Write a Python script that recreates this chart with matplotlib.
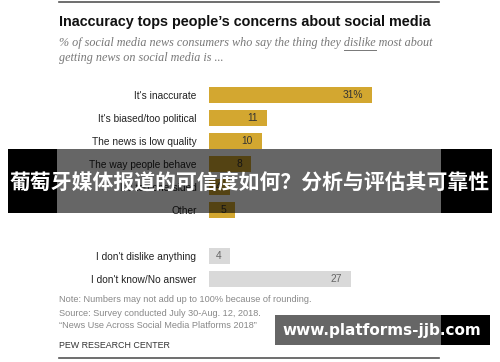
import matplotlib
matplotlib.use("Agg")
import matplotlib.pyplot as plt
from matplotlib.patches import Rectangle
from matplotlib.lines import Line2D

categories = ["It's inaccurate", "It's biased/too political", "The news is low quality",
              "The way people behave", "It's too one-sided", "Other",
              "I don't dislike anything", "I don't know/No answer"]
values = [31, 11, 10, 8, 4, 5, 4, 27]
value_labels = ["31%", "11", "10", "8", "4", "5", "4", "27"]
positions = [0, 1, 2, 3, 4, 5, 7, 8]
is_gray = [False] * 6 + [True, True]

GOLD = "#D3A730"
GRAY = "#D9D9D9"

W, H = 500, 362
fig = plt.figure(figsize=(W / 100, H / 100), dpi=100)
fig.patch.set_facecolor("white")

def fx(px):
    return px / W

def fy(py):
    return 1 - py / H

# bar axes: left at 209 px, 5.26 px per unit
xmax = 40
left_px = 209
ppu = 5.26
row_px = 23
top_row_px = 95
ax_top = top_row_px - row_px / 2
ax_bot = top_row_px + 8.5 * row_px
ax = fig.add_axes([fx(left_px), fy(ax_bot), (xmax * ppu) / W, (ax_bot - ax_top) / H])
ax.set_xlim(0, xmax)
ax.set_ylim(8.5, -0.5)
colors = [GRAY if g else GOLD for g in is_gray]
ax.barh(positions, values, height=0.70, color=colors, edgecolor="none")
for p, v, lab, g in zip(positions, values, value_labels, is_gray):
    ax.text(v - 9 / ppu, p, lab, ha="right", va="center", fontsize=7.4,
            family="Liberation Sans", color="#666" if g else "#333")
ax.set_yticks(positions)
ax.set_yticklabels(categories, fontsize=7.3, family="Liberation Sans", color="#222")
ax.tick_params(axis="y", length=0, pad=9)
ax.set_xticks([])
for s in ax.spines.values():
    s.set_visible(False)
ax.patch.set_alpha(0)

# rules
fig.add_artist(Line2D([fx(59), fx(439)], [fy(2), fy(2)], color="#555", lw=1.2))
fig.add_artist(Line2D([fx(59), fx(439)], [fy(358), fy(358)], color="#555", lw=1.2))

# title and subtitle
fig.text(fx(59), fy(22), "Inaccuracy tops people\u2019s concerns about social media",
         fontsize=10.4, fontweight="bold", family="Liberation Sans", color="#111",
         ha="left", va="center")
sub_kw = dict(fontsize=8.7, style="italic", family="Liberation Serif", color="#777",
              ha="left", va="center")
prefix = "% of social media news consumers who say the thing they "
fig.text(fx(59), fy(43), prefix + "dislike most about", **sub_kw)
fig.text(fx(59), fy(58), "getting news on social media is ...", **sub_kw)
fig.canvas.draw()
r = fig.canvas.get_renderer()
tmp = fig.text(0, 0, prefix, **sub_kw)
w_pre = tmp.get_window_extent(r).width
tmp.set_text(prefix + "dislike")
w_dis = tmp.get_window_extent(r).width
tmp.remove()
fig.add_artist(Line2D([fx(59 + w_pre), fx(59 + w_dis)], [fy(49.5), fy(49.5)], color="#777", lw=0.7))

# notes
note_kw = dict(fontsize=6.6, family="Liberation Sans", color="#888", ha="left", va="center")
fig.text(fx(59), fy(299), "Note: Numbers may not add up to 100% because of rounding.", **note_kw)
fig.text(fx(59), fy(313), "Source: Survey conducted July 30-Aug. 12, 2018.", **note_kw)
fig.text(fx(59), fy(326), "\u201cNews Use Across Social Media Platforms 2018\u201d", **note_kw)
fig.text(fx(59), fy(346), "PEW RESEARCH CENTER", fontsize=6.4, family="Liberation Sans",
         color="#333", ha="left", va="center")

# overlay banner
def rect(x0, y0, x1, y1, color, alpha=1.0):
    fig.add_artist(Rectangle((fx(x0), fy(y1)), fx(x1) - fx(x0), fy(y0) - fy(y1),
                             transform=fig.transFigure, facecolor=color, alpha=alpha,
                             edgecolor="none", zorder=10))

rect(8, 149, 57, 213, "black")
rect(441, 149, 492, 213, "black")
rect(57, 149, 441, 213, "black", 0.6)
fig.text(0.5, fy(183), "葡萄牙媒体报道的可信度如何？分析与评估其可靠性", fontsize=15.0,
         fontweight="bold", family=["Noto Sans CJK SC", "DejaVu Sans"], color="white",
         ha="center", va="center", zorder=11)

rect(275, 315, 441, 345, "#666666")
rect(441, 315, 490, 345, "black")
fig.text(fx(382), fy(330), "www.platforms-jjb.com", fontsize=11.0, fontweight="bold",
         family="DejaVu Sans", color="white", ha="center", va="center", zorder=11)

fig.savefig("out.png", dpi=100, facecolor="white")
